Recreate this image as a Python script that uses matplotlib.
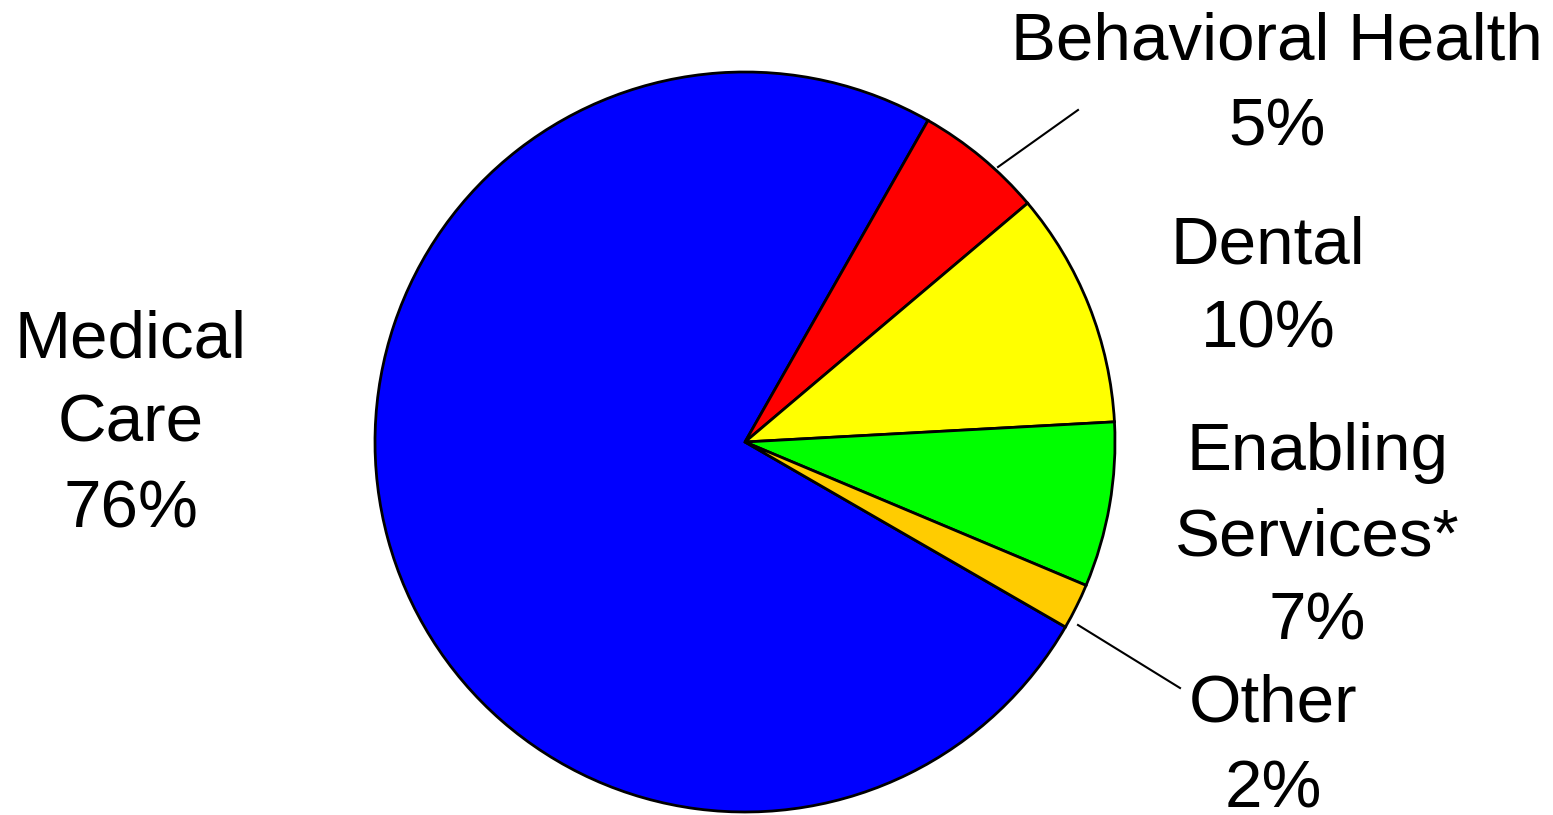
import matplotlib
matplotlib.use('Agg')
import matplotlib.pyplot as plt

# shares, labels as printed
categories = ['Medical\nCare', 'Behavioral Health', 'Dental', 'Enabling\nServices*', 'Other']
shares = [74.9, 5.6, 10.3, 7.2, 2.0]
pct_labels = ['76%', '5%', '10%', '7%', '2%']
colors = ['#0000FF', '#FF0000', '#FFFF00', '#00FF00', '#FFCC00']

W, H = 1553, 815
plt.rcParams['font.family'] = ['Liberation Sans', 'DejaVu Sans']

fig = plt.figure(figsize=(W / 100, H / 100), dpi=100)
ax = fig.add_axes([0, 0, 1, 1])

cx, cy, r = 745, H - 442, 370
ax.pie(shares, colors=colors, startangle=-30, counterclock=False,
       center=(cx, cy), radius=r,
       wedgeprops=dict(edgecolor='black', linewidth=2.0))
ax.set_xlim(0, W)
ax.set_ylim(0, H)
ax.set_aspect('equal')
ax.axis('off')

# label anchors in pixel space: x centre, first baseline (from top)
label_pos = [(131, 357), (1277, 60), (1268, 263), (1317, 470), (1273, 722)]
pitch = 85
for cat, pct, (x, y0) in zip(categories, pct_labels, label_pos):
    lines = cat.split('\n') + [pct]
    for i, line in enumerate(lines):
        ax.text(x, H - (y0 + i * pitch), line, ha='center', va='baseline',
                fontsize=48.5, color='black')

# leader lines
ax.plot([998, 1078], [H - 167, H - 110], color='black', lw=1.5)
ax.plot([1078, 1180], [H - 625, H - 688], color='black', lw=1.5)

fig.savefig('out.png', dpi=100)
